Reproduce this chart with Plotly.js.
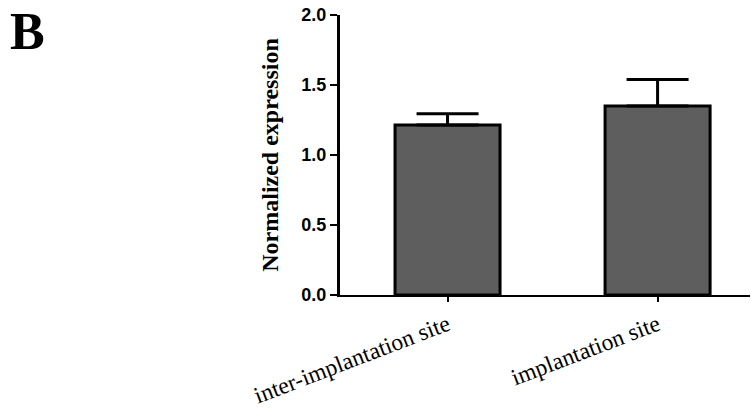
<!DOCTYPE html>
<html><head><meta charset="utf-8">
<script src="https://cdn.plot.ly/plotly-3.0.1.min.js"></script>
<style>html,body{margin:0;padding:0;background:#fff;}</style>
</head><body>
<div id="chart" style="width:755px;height:408px;"></div>
<script>
const categories = ["inter-implantation site", "implantation site"];
const values = [1.215, 1.35];
const errorsUp = [0.08, 0.19];
const yTicks = [0, 0.5, 1.0, 1.5, 2.0];
const yTickText = ["0.0", "0.5", "1.0", "1.5", "2.0"];

const trace = {
  type: "bar",
  x: categories,
  y: values,
  width: 0.5,
  marker: {color: "#5e5e5e", line: {color: "#000", width: 3}},
  error_y: {type: "data", symmetric: false, array: errorsUp, arrayminus: [0, 0],
            color: "#000", thickness: 3, width: 31},
  hoverinfo: "none"
};

const layout = {
  width: 755, height: 408,
  margin: {l: 340, r: 5, t: 15, b: 113},
  paper_bgcolor: "#fff", plot_bgcolor: "#fff",
  showlegend: false,
  xaxis: {
    type: "category", range: [-0.512, 1.44],
    showline: true, linecolor: "#000", linewidth: 2,
    ticks: "outside", ticklen: 5, tickwidth: 2, tickcolor: "#000",
    tickangle: -21, showgrid: false, zeroline: false,
    tickfont: {family: "Liberation Serif, Times New Roman, serif", size: 23.5, color: "#000"}
  },
  yaxis: {
    range: [0, 2.0], tickvals: yTicks, ticktext: yTickText,
    showline: true, linecolor: "#000", linewidth: 3,
    ticks: "outside", ticklen: 7, tickwidth: 2.5, tickcolor: "#000",
    showgrid: false, zeroline: false,
    tickfont: {family: "Liberation Sans, Arial, sans-serif", size: 18, color: "#000", weight: "bold"},
    title: {text: "Normalized expression", standoff: 16,
            font: {family: "Liberation Serif, Times New Roman, serif", size: 24, color: "#000", weight: "bold"}}
  },
  annotations: [{
    text: "B", xref: "paper", yref: "paper", x: -0.81, y: 1.05,
    xanchor: "left", yanchor: "top", showarrow: false,
    font: {family: "Liberation Serif, Times New Roman, serif", size: 52, color: "#000", weight: "bold"}
  }]
};

Plotly.newPlot("chart", [trace], layout, {displayModeBar: false, staticPlot: true});
</script>
</body></html>
